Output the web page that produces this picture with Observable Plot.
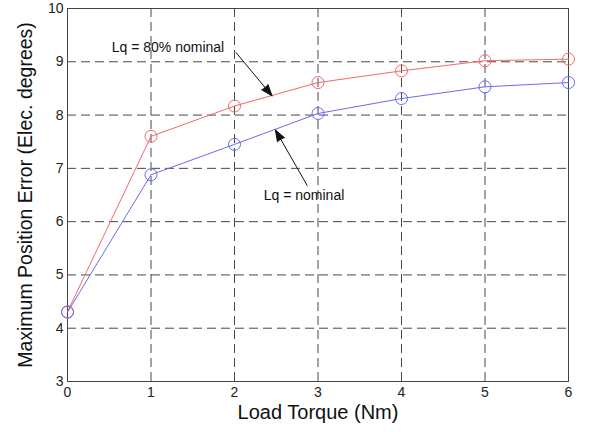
<!DOCTYPE html>
<html><head><meta charset="utf-8">
<script src="https://cdn.jsdelivr.net/npm/d3@7"></script>
<script src="https://cdn.jsdelivr.net/npm/@observablehq/plot@0.6"></script>
<style>body{margin:0;background:#fff}</style>
</head><body><div id="chart"></div>
<script>
const torque = [0, 1, 2, 3, 4, 5, 6];
const errNominal = [4.30, 6.88, 7.45, 8.03, 8.31, 8.53, 8.61];
const err80 = [4.31, 7.60, 8.17, 8.61, 8.83, 9.02, 9.05];
const xTicks = [0, 1, 2, 3, 4, 5, 6];
const yTicks = [3, 4, 5, 6, 7, 8, 9, 10];
const xLabel = "Load Torque (Nm)";
const yLabel = "Maximum Position Error (Elec. degrees)";
const noteText = ["Lq = 80% nominal", "Lq = nominal"];
const noteX = [0.53, 2.35];
const noteY = [9.27, 6.49];
const arrowX1 = [2.02, 2.87];
const arrowY1 = [9.17, 6.68];
const arrowX2 = [2.45, 2.49];
const arrowY2 = [8.36, 7.72];

const rowsRed = torque.map((t, i) => ({x: t, y: err80[i]}));
const rowsBlue = torque.map((t, i) => ({x: t, y: errNominal[i]}));
const notes = noteText.map((t, i) => ({t, x: noteX[i], y: noteY[i]}));
const arrows = arrowX1.map((v, i) => ({x1: v, y1: arrowY1[i], x2: arrowX2[i], y2: arrowY2[i]}));

const red = "#f06a6a", blue = "#6a6af0";
const gridStyle = {stroke: "#333", strokeOpacity: 0.9, strokeWidth: 1, strokeDasharray: "9,5"};

const chart = Plot.plot({
  width: 591, height: 432,
  marginLeft: 67, marginRight: 23, marginTop: 8, marginBottom: 51,
  style: {fontFamily: "'Liberation Sans', Arial, sans-serif", background: "#fff", color: "#222"},
  x: {domain: [0, 6]},
  y: {domain: [3, 10]},
  marks: [
    Plot.gridX(xTicks.slice(1, -1), gridStyle),
    Plot.gridY(yTicks.slice(1, -1), gridStyle),
    Plot.axisX(xTicks, {tickSize: 0, tickPadding: 6, fontSize: 14, label: null, tickFormat: d3.format("d")}),
    Plot.axisY(yTicks, {tickSize: 0, tickPadding: 4, fontSize: 14, label: null, tickFormat: d3.format("d")}),
    Plot.frame({stroke: "#444", strokeWidth: 1}),
    Plot.line(rowsRed, {x: "x", y: "y", stroke: red, strokeWidth: 1}),
    Plot.line(rowsBlue, {x: "x", y: "y", stroke: blue, strokeWidth: 1}),
    Plot.dot(rowsRed, {x: "x", y: "y", r: 6, stroke: red, fill: "none", strokeWidth: 1}),
    Plot.dot(rowsBlue, {x: "x", y: "y", r: 6, stroke: blue, fill: "none", strokeWidth: 1}),
    Plot.text(notes, {x: "x", y: "y", text: "t", textAnchor: "start", fontSize: 14, fill: "#111"}),
    Plot.arrow(arrows, {x1: "x1", y1: "y1", x2: "x2", y2: "y2", stroke: "#111", fill: "#111", strokeWidth: 1, headLength: 18, headAngle: 40}),
    Plot.text([xLabel], {frameAnchor: "bottom", dy: 37, fontSize: 20, fill: "#111"}),
    Plot.text([yLabel], {frameAnchor: "left", textAnchor: "middle", rotate: -90, dx: -42, fontSize: 19.5, fill: "#111"})
  ]
});
document.getElementById("chart").appendChild(chart);
</script>
</body></html>
